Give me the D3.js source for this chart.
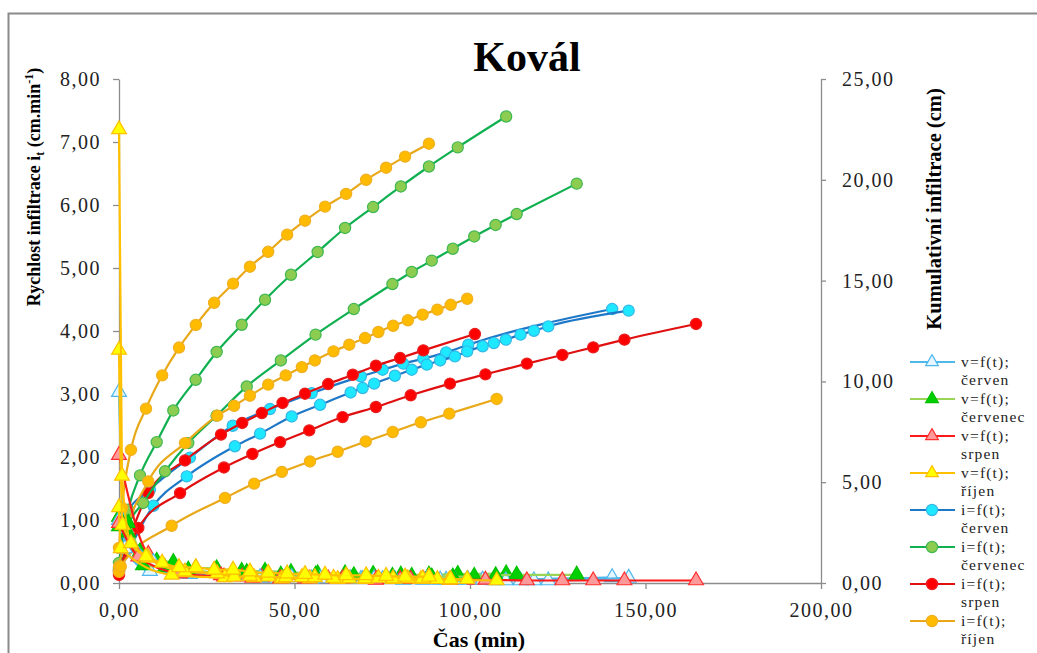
<!DOCTYPE html>
<html><head><meta charset="utf-8">
<script src="https://cdn.jsdelivr.net/npm/d3@7"></script>
<style>
html,body{margin:0;padding:0;background:#fff;overflow:hidden}
svg{display:block}
</style></head><body>
<svg id="c" width="1037" height="653"></svg>
<script>
// ---------- data ----------
const xTicks = [0, 50, 100, 150, 200];
const yLeftTicks = [0, 1, 2, 3, 4, 5, 6, 7, 8];
const yRightTicks = [0, 5, 10, 15, 20, 25];

const legendLabels = [
  ["v=f(t);", "červen"], ["v=f(t);", "červenec"], ["v=f(t);", "srpen"], ["v=f(t);", "říjen"],
  ["i=f(t);", "červen"], ["i=f(t);", "červenec"], ["i=f(t);", "srpen"], ["i=f(t);", "říjen"]
];

// červen (two runs)
const t_cerven_a = [0, 1.7, 8.8, 20.2, 32.4, 43.0, 54.9, 68.9, 75.1, 81.0, 86.7, 93.2, 99.5, 140.5];
const i_cerven_a = [0.76, 3.30, 4.63, 6.22, 7.80, 8.63, 9.42, 10.25, 10.58, 10.88, 11.13, 11.44, 11.82, 13.59];
const v_cerven_a = [3.03, 0.55, 0.19, 0.14, 0.13, 0.08, 0.07, 0.06, 0.06, 0.05, 0.05, 0.05, 0.05, 0.09];
const t_cerven_b = [0, 9.8, 19.3, 33.0, 40.2, 49.2, 57.3, 66.0, 69.4, 72.7, 78.6, 83.4, 87.7, 91.5, 95.7, 99.2, 103.6, 106.8, 110.2, 114.4, 118.2, 122.3, 145.2];
const i_cerven_b = [0.55, 3.83, 5.29, 6.78, 7.41, 8.26, 8.84, 9.45, 9.67, 9.89, 10.28, 10.58, 10.83, 11.04, 11.24, 11.49, 11.74, 11.90, 12.07, 12.32, 12.51, 12.73, 13.51];
const v_cerven_b = [1.00, 0.33, 0.15, 0.11, 0.09, 0.09, 0.07, 0.07, 0.06, 0.07, 0.06, 0.06, 0.06, 0.05, 0.05, 0.06, 0.05, 0.04, 0.04, 0.04, 0.04, 0.04, 0.08];

// červenec (two runs)
const t_cervenec_a = [0, 2.65, 5.98, 10.74, 15.47, 21.85, 27.83, 34.96, 41.6, 49.0, 56.6, 64.4, 72.4, 80.3, 88.3, 96.5, 110.3];
const i_cervenec_a = [1.0, 3.64, 5.34, 6.99, 8.56, 10.08, 11.46, 12.81, 14.05, 15.29, 16.42, 17.61, 18.65, 19.67, 20.66, 21.61, 23.14];
const v_cervenec_a = [1.05, 0.95, 0.50, 0.35, 0.33, 0.24, 0.23, 0.19, 0.19, 0.17, 0.15, 0.15, 0.14, 0.13, 0.13, 0.14, 0.15];
const t_cervenec_b = [0, 2.56, 6.84, 13.1, 19.74, 27.8, 36.4, 46.1, 56.0, 66.9, 77.9, 83.4, 89.1, 95.1, 101.2, 107.3, 113.3, 130.4];
const i_cervenec_b = [0.7, 2.79, 3.97, 5.54, 6.94, 8.30, 9.75, 11.04, 12.32, 13.59, 14.83, 15.43, 15.99, 16.58, 17.19, 17.76, 18.30, 19.81];
const v_cervenec_b = [0.90, 0.80, 0.28, 0.25, 0.21, 0.17, 0.17, 0.13, 0.13, 0.12, 0.11, 0.11, 0.10, 0.10, 0.11, 0.12, 0.13, 0.13];

// srpen (two runs)
const t_srpen_a = [0, 8.35, 18.8, 29.06, 35.1, 40.7, 46.6, 53.0, 59.6, 66.6, 73.2, 80.1, 86.7, 101.4];
const i_srpen_a = [0.6, 4.46, 6.08, 7.36, 7.94, 8.43, 8.93, 9.39, 9.87, 10.33, 10.78, 11.16, 11.54, 12.35];
const v_srpen_a = [2.03, 0.46, 0.16, 0.12, 0.10, 0.09, 0.08, 0.07, 0.07, 0.07, 0.06, 0.06, 0.06, 0.05];
const t_srpen_b = [0, 5.5, 17.4, 29.9, 38.0, 45.9, 54.2, 63.7, 73.2, 83.1, 94.3, 104.4, 116.2, 126.3, 135.1, 144.0, 164.4];
const i_srpen_b = [0.4, 2.73, 4.46, 5.73, 6.40, 6.99, 7.57, 8.23, 8.73, 9.31, 9.89, 10.35, 10.88, 11.31, 11.69, 12.07, 12.85];
const v_srpen_b = [0.95, 0.42, 0.15, 0.10, 0.08, 0.07, 0.07, 0.07, 0.05, 0.06, 0.05, 0.05, 0.04, 0.04, 0.04, 0.04, 0.04];

// říjen (three runs)
const t_rijen_a = [0, 0.85, 3.4, 7.7, 12.3, 17.1, 21.9, 27.1, 32.5, 37.3, 42.5, 47.9, 53.0, 58.7, 64.7, 70.4, 76.1, 81.5, 88.3];
const i_rijen_a = [1.74, 3.73, 6.6, 8.65, 10.3, 11.68, 12.8, 13.9, 14.85, 15.69, 16.43, 17.28, 17.97, 18.67, 19.3, 20.0, 20.6, 21.15, 21.79];
const v_rijen_a = [7.20, 1.70, 0.63, 0.42, 0.32, 0.25, 0.25, 0.21, 0.21, 0.18, 0.16, 0.15, 0.14, 0.13, 0.12, 0.12, 0.11, 0.10, 0.10];
const t_rijen_b = [0, 1.0, 8.35, 18.8, 28.0, 32.8, 37.3, 42.5, 47.5, 52.1, 55.8, 61.1, 65.6, 70.1, 73.9, 78.1, 82.3, 86.5, 90.7, 94.5, 99.2];
const i_rijen_b = [0.82, 1.74, 5.04, 6.94, 8.30, 8.79, 9.29, 9.84, 10.30, 10.71, 11.04, 11.49, 11.82, 12.15, 12.45, 12.76, 13.03, 13.31, 13.56, 13.80, 14.10];
const v_rijen_b = [3.70, 0.92, 0.40, 0.18, 0.15, 0.10, 0.11, 0.10, 0.09, 0.09, 0.09, 0.08, 0.07, 0.07, 0.08, 0.07, 0.07, 0.07, 0.06, 0.06, 0.06];
const t_rijen_c = [0, 0.5, 15.0, 30.2, 38.5, 46.4, 54.4, 62.3, 70.3, 78.0, 86.0, 94.1, 107.6];
const i_rijen_c = [0.55, 0.82, 2.84, 4.22, 4.93, 5.51, 6.03, 6.51, 7.02, 7.49, 7.97, 8.40, 9.13];
const v_rijen_c = [1.20, 0.55, 0.13, 0.09, 0.09, 0.07, 0.07, 0.06, 0.06, 0.06, 0.06, 0.05, 0.04];

// ---------- styles ----------
const SERIF = '"Liberation Serif","Times New Roman",Times,serif';
const style = {
  v_cerven:   {line: "#4db8ec", fill: "#e6f6ff", stroke: "#4db8ec", shape: "tri"},
  v_cervenec: {line: "#9ad457", fill: "#00d000", stroke: "#00c000", shape: "tri"},
  v_srpen:    {line: "#ff1a1a", fill: "#ff9a9a", stroke: "#ff3030", shape: "tri"},
  v_rijen:    {line: "#ffc000", fill: "#ffff00", stroke: "#ffc000", shape: "tri"},
  i_cerven:   {line: "#1e78c8", fill: "#1ee8ff", stroke: "#33b8e8", shape: "circ"},
  i_cervenec: {line: "#10b050", fill: "#8ccc50", stroke: "#40b850", shape: "circ"},
  i_srpen:    {line: "#e01010", fill: "#ff0000", stroke: "#e82020", shape: "circ"},
  i_rijen:    {line: "#e8a818", fill: "#ffbb00", stroke: "#f0b020", shape: "circ"}
};
const legendKeys = ["v_cerven","v_cervenec","v_srpen","v_rijen","i_cerven","i_cervenec","i_srpen","i_rijen"];

const zip = (t, y) => t.map((d, k) => ({t: d, y: y[k]}));
const cumSeries = [
  {key: "i_cerven", pts: zip(t_cerven_a, i_cerven_a)},
  {key: "i_cervenec", pts: zip(t_cervenec_a, i_cervenec_a)},
  {key: "i_srpen", pts: zip(t_srpen_a, i_srpen_a)},
  {key: "i_rijen", pts: zip(t_rijen_a, i_rijen_a)},
  {key: "i_cerven", pts: zip(t_cerven_b, i_cerven_b)},
  {key: "i_cervenec", pts: zip(t_cervenec_b, i_cervenec_b)},
  {key: "i_srpen", pts: zip(t_srpen_b, i_srpen_b)},
  {key: "i_rijen", pts: zip(t_rijen_b, i_rijen_b)},
  {key: "i_rijen", pts: zip(t_rijen_c, i_rijen_c)}
];
const velSeries = [
  {key: "v_cerven", pts: zip(t_cerven_a, v_cerven_a)},
  {key: "v_cervenec", pts: zip(t_cervenec_a, v_cervenec_a)},
  {key: "v_srpen", pts: zip(t_srpen_a, v_srpen_a)},
  {key: "v_cerven", pts: zip(t_cerven_b, v_cerven_b)},
  {key: "v_cervenec", pts: zip(t_cervenec_b, v_cervenec_b)},
  {key: "v_srpen", pts: zip(t_srpen_b, v_srpen_b)},
  {key: "v_rijen", pts: zip(t_rijen_c, v_rijen_c)},
  {key: "v_rijen", pts: zip(t_rijen_b, v_rijen_b)},
  {key: "v_rijen", pts: zip(t_rijen_a, v_rijen_a)}
];

// ---------- layout ----------
const svg = d3.select("#c");
const X0 = 119, X1 = 821, Y0 = 583, Y1 = 79;
const x = d3.scaleLinear().domain([0, 200]).range([X0, X1]);
const yL = d3.scaleLinear().domain([0, 8]).range([Y0, Y1]);
const yR = d3.scaleLinear().domain([0, 25]).range([Y0, Y1]);
const fmt = d => d3.format(".2f")(d).replace(".", ",");

// frame
svg.append("rect").attr("x", 8.5).attr("y", 13.5).attr("width", 1100).attr("height", 700)
  .attr("fill", "none").attr("stroke", "#8a8a8a").attr("stroke-width", 2);

// title
svg.append("text").attr("x", 527).attr("y", 71).attr("text-anchor", "middle")
  .attr("font-family", SERIF).style("font-family", SERIF)
  .style("font-size", "42px").style("font-weight", "bold").style("fill", "#000").text("Kovál");

const axisColor = "#8c8c8c";
function styleAxis(g) {
  g.attr("font-family", SERIF);
  g.selectAll("path, line").attr("stroke", axisColor).attr("stroke-width", 1.3);
  g.selectAll("text").style("font-size", "20px").style("letter-spacing", "1.5px")
    .style("font-family", SERIF).style("fill", "#222");
}
const gx = svg.append("g").attr("transform", `translate(0,${Y0})`)
  .call(d3.axisBottom(x).tickValues(xTicks).tickFormat(fmt).tickSize(6).tickSizeOuter(0).tickPadding(14));
styleAxis(gx);
const gl = svg.append("g").attr("transform", `translate(${X0},0)`)
  .call(d3.axisLeft(yL).tickValues(yLeftTicks).tickFormat(fmt).tickSize(6).tickSizeOuter(0).tickPadding(12));
styleAxis(gl);
const gr = svg.append("g").attr("transform", `translate(${X1},0)`)
  .call(d3.axisRight(yR).tickValues(yRightTicks).tickFormat(fmt).tickSize(5).tickSizeOuter(0).tickPadding(16));
styleAxis(gr);

// axis titles
svg.append("text").attr("x", 479).attr("y", 647).attr("text-anchor", "middle")
  .style("font-family", SERIF)
  .style("font-size", "22px").style("font-weight", "bold").style("fill", "#000").text("Čas (min)");

const lt = svg.append("text").attr("transform", "translate(40,187) rotate(-90)").attr("text-anchor", "middle")
  .style("font-family", SERIF)
  .style("font-size", "18px").style("font-weight", "bold").style("fill", "#000");
lt.append("tspan").text("Rychlost infiltrace i");
lt.append("tspan").attr("dy", 4).style("font-size", "12px").text("t");
lt.append("tspan").attr("dy", -4).text(" (cm.min");
lt.append("tspan").attr("dy", -7).style("font-size", "12px").text("-1");
lt.append("tspan").attr("dy", 7).text(")");

svg.append("text").attr("transform", "translate(941,209) rotate(-90)").attr("text-anchor", "middle")
  .style("font-family", SERIF)
  .style("font-size", "20.5px").style("font-weight", "bold").style("fill", "#000").text("Kumulativní infiltrace (cm)");

// ---------- series ----------
const triangle = d3.symbol().type(d3.symbolTriangle).size(95);
const triangleSmall = d3.symbol().type(d3.symbolTriangle).size(70);
function drawSeries(s, yScale) {
  const st = style[s.key];
  const line = d3.line().x(d => x(d.t)).y(d => yScale(d.y)).curve(d3.curveMonotoneX);
  const g = svg.append("g");
  g.append("path").datum(s.pts).attr("d", line).attr("fill", "none")
    .attr("stroke", st.line).attr("stroke-width", 2.2);
  if (st.shape === "circ") {
    g.selectAll("circle").data(s.pts).join("circle")
      .attr("cx", d => x(d.t)).attr("cy", d => yScale(d.y)).attr("r", 5.6)
      .attr("fill", st.fill).attr("stroke", st.stroke).attr("stroke-width", 1.2);
  } else {
    g.selectAll("path.m").data(s.pts).join("path").attr("class", "m")
      .attr("d", triangle).attr("transform", d => `translate(${x(d.t)},${yScale(d.y)})`)
      .attr("fill", st.fill).attr("stroke", st.stroke).attr("stroke-width", 1.2);
  }
}
cumSeries.forEach(s => drawSeries(s, yR));
velSeries.forEach(s => drawSeries(s, yL));

// ---------- legend ----------
const lg = svg.append("g");
legendKeys.forEach((k, n) => {
  const st = style[k];
  const y0 = 362 + n * 37;
  lg.append("line").attr("x1", 910).attr("x2", 955).attr("y1", y0).attr("y2", y0)
    .attr("stroke", st.line).attr("stroke-width", 2.2);
  if (st.shape === "circ") {
    lg.append("circle").attr("cx", 932).attr("cy", y0).attr("r", 5.6)
      .attr("fill", st.fill).attr("stroke", st.stroke).attr("stroke-width", 1.2);
  } else {
    lg.append("path").attr("d", triangleSmall).attr("transform", `translate(932,${y0})`)
      .attr("fill", st.fill).attr("stroke", st.stroke).attr("stroke-width", 1.2);
  }
  legendLabels[n].forEach((txt, j) => {
    lg.append("text").attr("x", 961).attr("y", y0 + 5 + j * 18)
      .style("font-family", SERIF)
      .style("font-size", "15.5px").style("letter-spacing", "1.2px").style("fill", "#222").text(txt);
  });
});
</script>
</body></html>
